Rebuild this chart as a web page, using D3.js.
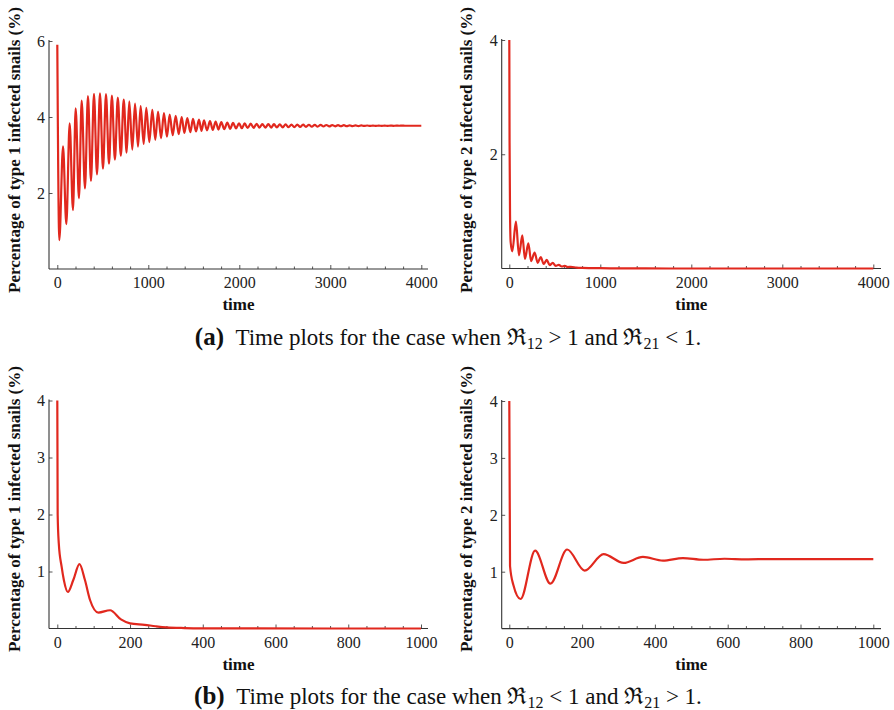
<!DOCTYPE html>
<html>
<head>
<meta charset="utf-8">
<script src="https://cdn.jsdelivr.net/npm/d3@7"></script>
<style>
  body { margin: 0; background: #fff; }
  .tick-label { font-family: "Liberation Serif", "Times New Roman", serif; font-size: 16px; fill: #222; }
  .axis-title { font-family: "Liberation Serif", "Times New Roman", serif; font-size: 17px; font-weight: bold; fill: #111; }
  .caption { font-family: "Liberation Serif", "DejaVu Serif", serif; font-size: 23px; fill: #111; }
</style>
</head>
<body>
<svg id="fig" width="894" height="710"></svg>
<script>
// (a) left: type 1 infected snails, peaks and troughs
var timeA1 = [0, 22, 63, 99, 136, 172, 202, 238, 268, 304, 337, 370, 403, 436, 469, 502,
  535, 568, 600, 633, 665, 698, 730, 762, 791, 824, 854, 887, 916, 949, 978, 1011,
  1044, 1077, 1107, 1140, 1172, 1205, 1235, 1268, 1301, 1334, 1367, 1396, 1429, 1462,
  1491, 1524, 1557, 1585, 1612, 1645, 1678, 1709, 1740, 1771, 1802, 1835, 1868, 1900,
  1931, 1964, 1997, 2028, 2059, 2092, 2125, 2158, 2191, 2222, 2253, 2286, 2319, 2350,
  2381, 2413, 2445, 2477, 2509, 2541, 2573, 2605, 2637, 2669, 2701, 2733, 2765, 2797,
  2829, 2861, 2893, 2925, 2957, 2989, 3021, 3053, 3085, 3117, 3149, 3181, 3213, 3245,
  3277, 3309, 3341, 3373, 3405, 3437, 3469, 3501, 3533, 3565, 3597, 3629, 3661, 3693,
  3725, 3757, 3789, 3821, 3853, 4000];
var pctA1 = [5.9, 0.76, 3.23, 1.18, 3.83, 1.55, 4.23, 1.86, 4.43, 2.12, 4.55, 2.32, 4.61, 2.49, 4.62, 2.64,
  4.60, 2.77, 4.56, 2.88, 4.51, 2.98, 4.46, 3.06, 4.41, 3.14, 4.35, 3.22, 4.29, 3.29, 4.24, 3.34,
  4.19, 3.40, 4.14, 3.44, 4.10, 3.48, 4.06, 3.52, 4.03, 3.55, 4.00, 3.58, 3.97, 3.60,
  3.95, 3.62, 3.93, 3.635, 3.91, 3.65, 3.89, 3.66, 3.88, 3.67, 3.865, 3.68, 3.855, 3.69,
  3.845, 3.70, 3.835, 3.705, 3.83, 3.71, 3.825, 3.715, 3.82, 3.718, 3.815, 3.72, 3.812, 3.723,
  3.81, 3.726, 3.807, 3.729, 3.805, 3.732, 3.802, 3.735, 3.80, 3.738, 3.798, 3.741, 3.796, 3.744,
  3.794, 3.747, 3.792, 3.75, 3.79, 3.752, 3.788, 3.754, 3.786, 3.756, 3.784, 3.758, 3.782, 3.76,
  3.78, 3.762, 3.778, 3.764, 3.776, 3.765, 3.775, 3.766, 3.774, 3.767, 3.773, 3.768, 3.772, 3.769,
  3.771, 3.77, 3.771, 3.77, 3.77, 3.77];

// (a) right: type 2 infected snails
var timeA2 = [0, 3, 8, 15, 33, 73, 106, 143, 172, 209, 240, 278, 312, 345, 378, 411, 444, 477,
  510, 543, 576, 609, 642, 675, 740, 800, 900, 1000, 1200, 1500, 2000, 4000];
var pctA2 = [4.0, 2.2, 0.95, 0.46, 0.3, 0.82, 0.23, 0.58, 0.17, 0.44, 0.13, 0.28, 0.1, 0.2, 0.08, 0.15,
  0.06, 0.1, 0.045, 0.065, 0.035, 0.045, 0.025, 0.03, 0.015, 0.01, 0.007, 0.005, 0.003, 0.001, 0, 0];

// (b) left: type 1 infected snails
var timeB1 = [0, 1, 4, 12, 18, 29, 44, 61, 76, 90, 113, 145, 175, 200, 240, 270, 300, 350, 400, 500, 1000];
var pctB1 = [4.0, 2.0, 1.5, 1.08, 0.85, 0.64, 0.85, 1.13, 0.85, 0.5, 0.28, 0.32, 0.16, 0.09, 0.065,
  0.04, 0.02, 0.008, 0.003, 0.001, 0];

// (b) right: type 2 infected snails
var timeB2 = [0, 2, 11, 31, 71, 113, 159, 207, 259, 314, 367, 422, 477, 533, 591, 650, 720, 1000];
var pctB2 = [4.0, 1.1, 0.77, 0.52, 1.37, 0.79, 1.39, 1.02, 1.31, 1.155, 1.26, 1.195, 1.24, 1.21,
  1.228, 1.217, 1.222, 1.222];

var xMajorA = [0, 1000, 2000, 3000, 4000];
var xMajorB = [0, 200, 400, 600, 800, 1000];
var yTicksA1 = [2, 4, 6];
var yTicksA2 = [2, 4];
var yTicksB = [1, 2, 3, 4];

var svg = d3.select("#fig");
var lineColor = "#e1281e";

function drawPanel(p) {
  var g = svg.append("g");
  var x = d3.scaleLinear().domain(p.xDomain).range(p.xRange);
  var y = d3.scaleLinear().domain(p.yDomain).range(p.yRange);
  var x0 = p.axisX, yb = y(0);

  // minor x ticks
  var minor = d3.range(p.xDomain[0], p.xDomain[1] + 1, p.minorStep)
    .filter(function(v) { return p.xMajor.indexOf(v) == -1; });
  g.append("g").attr("transform", "translate(0," + yb + ")")
    .call(d3.axisBottom(x).tickValues(minor).tickSize(-2.5).tickFormat(""))
    .call(function(s) { s.select(".domain").remove(); s.selectAll("line").attr("stroke", "#555"); });

  // major x ticks + labels
  g.append("g").attr("transform", "translate(0," + yb + ")")
    .call(d3.axisBottom(x).tickValues(p.xMajor).tickSize(-4).tickPadding(8).tickFormat(d3.format("d")))
    .call(function(s) {
      s.select(".domain").remove();
      s.selectAll("line").attr("stroke", "#555");
      s.selectAll("text").attr("class", "tick-label").attr("font-size", null).attr("font-family", null);
    });

  // y ticks
  g.append("g").attr("transform", "translate(" + x0 + ",0)")
    .call(d3.axisLeft(y).tickValues(p.yTicks).tickSize(-3.5).tickPadding(4).tickFormat(d3.format("d")))
    .call(function(s) {
      s.select(".domain").remove();
      s.selectAll("line").attr("stroke", "#555");
      s.selectAll("text").attr("class", "tick-label").attr("font-size", null).attr("font-family", null)
        .attr("dy", "0.34em");
    });

  // axis lines
  g.append("line").attr("x1", x0).attr("x2", p.axisXEnd).attr("y1", yb).attr("y2", yb)
    .attr("stroke", "#333").attr("stroke-width", 1.1);
  g.append("line").attr("x1", x0).attr("x2", x0).attr("y1", yb).attr("y2", y(p.yDomain[1]) - 1)
    .attr("stroke", "#333").attr("stroke-width", 1.1);

  // the curve
  var pts = p.time.map(function(t, i) { return [t, p.pct[i]]; });
  g.append("path").datum(pts)
    .attr("fill", "none").attr("stroke", lineColor).attr("stroke-width", 2.2)
    .attr("stroke-linejoin", "round")
    .attr("d", d3.line().x(function(d) { return x(d[0]); }).y(function(d) { return y(d[1]); })
      .curve(d3.curveMonotoneX));

  // titles
  g.append("text").attr("class", "axis-title").attr("text-anchor", "middle")
    .attr("x", (x0 + p.axisXEnd) / 2).attr("y", yb + 41).text("time");
  g.append("text").attr("class", "axis-title").attr("text-anchor", "middle")
    .attr("transform", "translate(" + p.yTitleX + "," + p.yTitleY + ") rotate(-90)")
    .text("Percentage of type " + p.type + " infected snails (%)");
}

drawPanel({ time: timeA1, pct: pctA1, type: 1, xDomain: [0, 4000], xRange: [57.3, 421.3],
  yDomain: [0, 6], yRange: [269, 41], axisX: 49, axisXEnd: 428, xMajor: xMajorA, minorStep: 200,
  yTicks: yTicksA1, yTitleX: 20, yTitleY: 150 });
drawPanel({ time: timeA2, pct: pctA2, type: 2, xDomain: [0, 4000], xRange: [509.3, 873.3],
  yDomain: [0, 4], yRange: [268.5, 40], axisX: 501.7, axisXEnd: 881, xMajor: xMajorA, minorStep: 200,
  yTicks: yTicksA2, yTitleX: 472, yTitleY: 150 });
drawPanel({ time: timeB1, pct: pctB1, type: 1, xDomain: [0, 1000], xRange: [57.3, 421],
  yDomain: [0, 4], yRange: [628.5, 400.5], axisX: 49, axisXEnd: 428, xMajor: xMajorB, minorStep: 50,
  yTicks: yTicksB, yTitleX: 20, yTitleY: 509 });
drawPanel({ time: timeB2, pct: pctB2, type: 2, xDomain: [0, 1000], xRange: [509.3, 873.3],
  yDomain: [0, 4], yRange: [628.6, 401], axisX: 501.7, axisXEnd: 881, xMajor: xMajorB, minorStep: 50,
  yTicks: yTicksB, yTitleX: 472, yTitleY: 509 });

// captions
function caption(label, rel1, rel2, yPos) {
  var t = svg.append("text").attr("class", "caption").attr("text-anchor", "middle")
    .attr("x", 448).attr("y", yPos);
  t.append("tspan").attr("font-weight", "bold").attr("font-size", 25).text(label);
  t.append("tspan").text("\u2002Time plots for the case when \u211C");
  t.append("tspan").attr("font-size", 16).attr("dy", 4).text("12");
  t.append("tspan").attr("dy", -4).text(" " + rel1 + " 1 and \u211C");
  t.append("tspan").attr("font-size", 16).attr("dy", 4).text("21");
  t.append("tspan").attr("dy", -4).text(" " + rel2 + " 1.");
}
caption("(a)", ">", "<", 345);
caption("(b)", "<", ">", 704);
</script>
</body>
</html>
